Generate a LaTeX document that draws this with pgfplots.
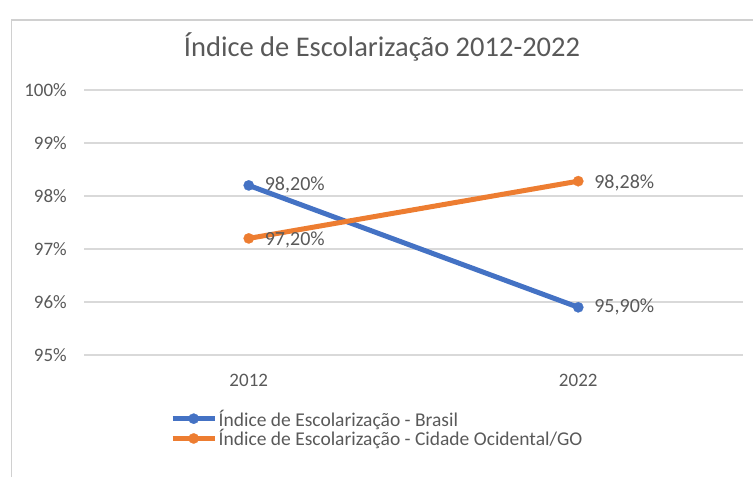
\documentclass[border=0pt]{standalone}
\usepackage{pgfplots}
\pgfplotsset{compat=1.18}
\usepackage{fontspec}
\setmainfont{Carlito}
\definecolor{cblue}{HTML}{4472C4}
\definecolor{corange}{HTML}{ED7D31}
\definecolor{txt}{HTML}{595959}
\definecolor{gridc}{HTML}{D9D9D9}
\definecolor{borderc}{HTML}{D0D0D0}
\begin{document}
\begin{tikzpicture}[x=1pt,y=1pt]
\path[use as bounding box] (0,0) rectangle (753,477);
\draw[borderc, line width=1.5pt] (11.5,0) -- (11.5,457) -- (753,457);
\node[anchor=base, text=txt, font=\fontsize{28.5}{32}\selectfont] at (382,420) {Índice de Escolarização 2012-2022};
\begin{axis}[
  at={(84pt,122pt)}, anchor=south west,
  scale only axis, width=659pt, height=265pt,
  xmin=-0.5, xmax=1.5, ymin=95, ymax=100,
  xtick={0,1}, xticklabels={2012,2022},
  ytick={95,96,97,98,99,100},
  yticklabels={95\%,96\%,97\%,98\%,99\%,100\%},
  axis line style={draw=none},
  major tick length=0pt,
  ymajorgrids, xmajorgrids=false,
  grid style={gridc, line width=1.4pt},
  tick label style={text=txt, font=\fontsize{19}{22}\selectfont, inner sep=0pt},
  yticklabel style={anchor=east, xshift=-17pt},
  xticklabel style={anchor=north, yshift=-19pt},
  clip=false,
  point meta=explicit symbolic,
  nodes near coords,
  nodes near coords style={anchor=west, text=txt, font=\fontsize{20}{23}\selectfont, inner sep=0pt, xshift=16pt},
  legend style={draw=none, fill=none, at={(0.1305,-0.206)}, anchor=north west,
    inner sep=0pt, row sep=2pt, font=\fontsize{19.5}{22}\selectfont, text=txt,
    nodes={inner xsep=1.5pt, inner ysep=0pt}},
  legend cell align=left,
  legend image code/.code={\draw[mark repeat=2,mark phase=2,#1] plot coordinates {(0pt,0pt) (21pt,0pt) (42pt,0pt)};},
]
\addplot[cblue, line width=5pt, mark=*, mark size=5.2pt, mark options={line width=0.2pt, fill=cblue}]
  coordinates {(0,98.20) [98,20\%] (1,95.90) [95,90\%]};
\addlegendentry{Índice de Escolarização - Brasil}
\addplot[corange, line width=5pt, mark=*, mark size=5.2pt, mark options={line width=0.2pt, fill=corange},
  nodes near coords style={yshift=-2pt}]
  coordinates {(0,97.20) [97,20\%] (1,98.28) [98,28\%]};
\addlegendentry{Índice de Escolarização - Cidade Ocidental/GO}
\end{axis}
\end{tikzpicture}
\end{document}
